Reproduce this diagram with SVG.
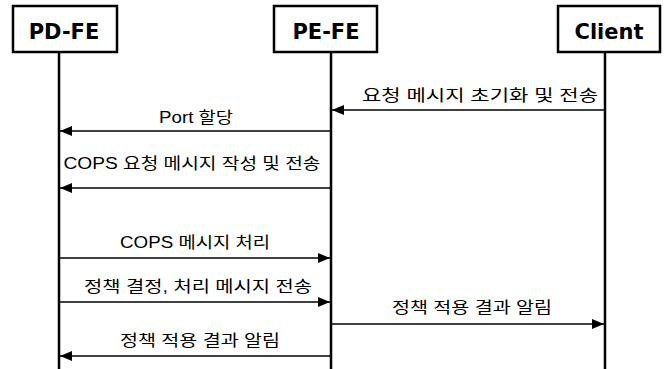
<svg xmlns="http://www.w3.org/2000/svg" width="670" height="369" viewBox="0 0 670 369">
<style>
.box{fill:#fff;stroke:#000;stroke-width:2.5}
.hd{font-family:"DejaVu Sans","Liberation Sans",sans-serif;font-weight:bold;font-size:21px;text-anchor:middle;fill:#000}
.life{stroke:#000;stroke-width:2.5}
.msg{stroke:#000;stroke-width:1.5;fill:none;marker-end:url(#ah)}
.lbl{font-family:"Liberation Sans","Noto Sans CJK KR",sans-serif;font-size:16px;text-anchor:middle;fill:#000}
</style>
<defs>
<marker id="ah" markerUnits="userSpaceOnUse" markerWidth="13" markerHeight="11" refX="12" refY="5" orient="auto">
<path d="M0,0 L12,5 L0,10 z" fill="#000"/>
</marker>
</defs>
<rect width="670" height="369" fill="#fff"/>
<g id="pdfe">
<line class="life" x1="59" y1="52" x2="59" y2="369"/>
<rect class="box" x="13" y="6" width="104" height="46"/>
<text class="hd" x="64" y="39">PD-FE</text>
</g>
<g id="pefe">
<line class="life" x1="331" y1="52" x2="331" y2="369"/>
<rect class="box" x="274" y="6" width="103" height="46"/>
<text class="hd" x="326" y="39">PE-FE</text>
</g>
<g id="client">
<line class="life" x1="605" y1="52" x2="605" y2="369"/>
<rect class="box" x="558" y="6" width="102" height="46"/>
<text class="hd" x="609" y="39">Client</text>
</g>
<g id="connectors">
<line class="msg" x1="605" y1="110" x2="332" y2="110"/>
<text class="lbl" x="480" y="101" textLength="236" lengthAdjust="spacingAndGlyphs">요청 메시지 초기화 및 전송</text>
<line class="msg" x1="331" y1="131" x2="60" y2="131"/>
<text class="lbl" x="196" y="123" textLength="74" lengthAdjust="spacingAndGlyphs">Port 할당</text>
<line class="msg" x1="331" y1="188" x2="60" y2="188"/>
<text class="lbl" x="192" y="169" textLength="257" lengthAdjust="spacingAndGlyphs">COPS 요청 메시지 작성 및 전송</text>
<line class="msg" x1="59" y1="258" x2="330" y2="258"/>
<text class="lbl" x="195" y="248" textLength="150" lengthAdjust="spacingAndGlyphs">COPS 메시지 처리</text>
<line class="msg" x1="59" y1="302" x2="330" y2="302"/>
<text class="lbl" x="198" y="292" textLength="228" lengthAdjust="spacingAndGlyphs">정책 결정, 처리 메시지 전송</text>
<line class="msg" x1="331" y1="324" x2="604" y2="324"/>
<text class="lbl" x="472" y="313" textLength="160" lengthAdjust="spacingAndGlyphs">정책 적용 결과 알림</text>
<line class="msg" x1="331" y1="356" x2="60" y2="356"/>
<text class="lbl" x="200" y="346" textLength="160" lengthAdjust="spacingAndGlyphs">정책 적용 결과 알림</text>
</g>
</svg>
